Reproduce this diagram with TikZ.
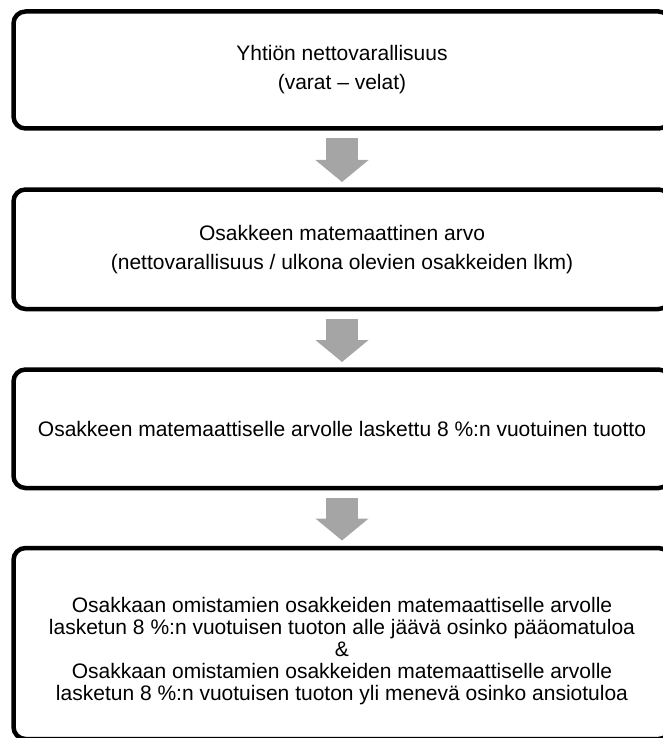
\documentclass[tikz,border=0pt]{standalone}
\usepackage{fontspec}
\setmainfont{Liberation Sans}
\usetikzlibrary{arrows.meta}
\definecolor{arrowgray}{HTML}{A5A5A5}

\begin{document}
\begin{tikzpicture}[x=1pt,y=-1pt,
    box/.style={draw, line width=4.5pt, rounded corners=12pt, outer sep=0pt,
        minimum width=657pt, align=center,
        font=\fontsize{21}{29}\selectfont},
    down arrow/.style={draw=arrowgray, line width=32pt,
        -{Triangle[length=22pt, width=52pt]},
        shorten <=9.5pt, shorten >=7.5pt}
]

% Frame: the boxes run past the right and bottom edges
\useasboundingbox (0,0) rectangle (663,738);
\clip (0,0) rectangle (663,738);

% --- Boxes ---
\node[box, minimum height=117pt] (worth) at (342,70)
    {Yhtiön nettovarallisuus\\(varat – velat)};
\node[box, minimum height=119.5pt] (value) at (342,249.25)
    {Osakkeen matemaattinen arvo\\(nettovarallisuus / ulkona olevien osakkeiden lkm)};
\node[box, minimum height=118.5pt] (yield) at (342,428.75)
    {Osakkeen matemaattiselle arvolle laskettu 8 \%:n vuotuinen tuotto};
\node[box, minimum height=191pt] (dividend) at (342,643.5) {};
\node[align=center, font=\fontsize{21}{22}\selectfont] (dividendtext)
    at ([yshift=-8pt]dividend.center)
    {Osakkaan omistamien osakkeiden matemaattiselle arvolle\\
     lasketun 8 \%:n vuotuisen tuoton alle jäävä osinko pääomatuloa\\
     \&\\
     Osakkaan omistamien osakkeiden matemaattiselle arvolle\\
     lasketun 8 \%:n vuotuisen tuoton yli menevä osinko ansiotuloa};

% --- Grey block arrows ---
\draw[down arrow] (worth) -- (value);
\draw[down arrow] (value) -- (yield);
\draw[down arrow] (yield) -- (dividend);

\end{tikzpicture}
\end{document}
